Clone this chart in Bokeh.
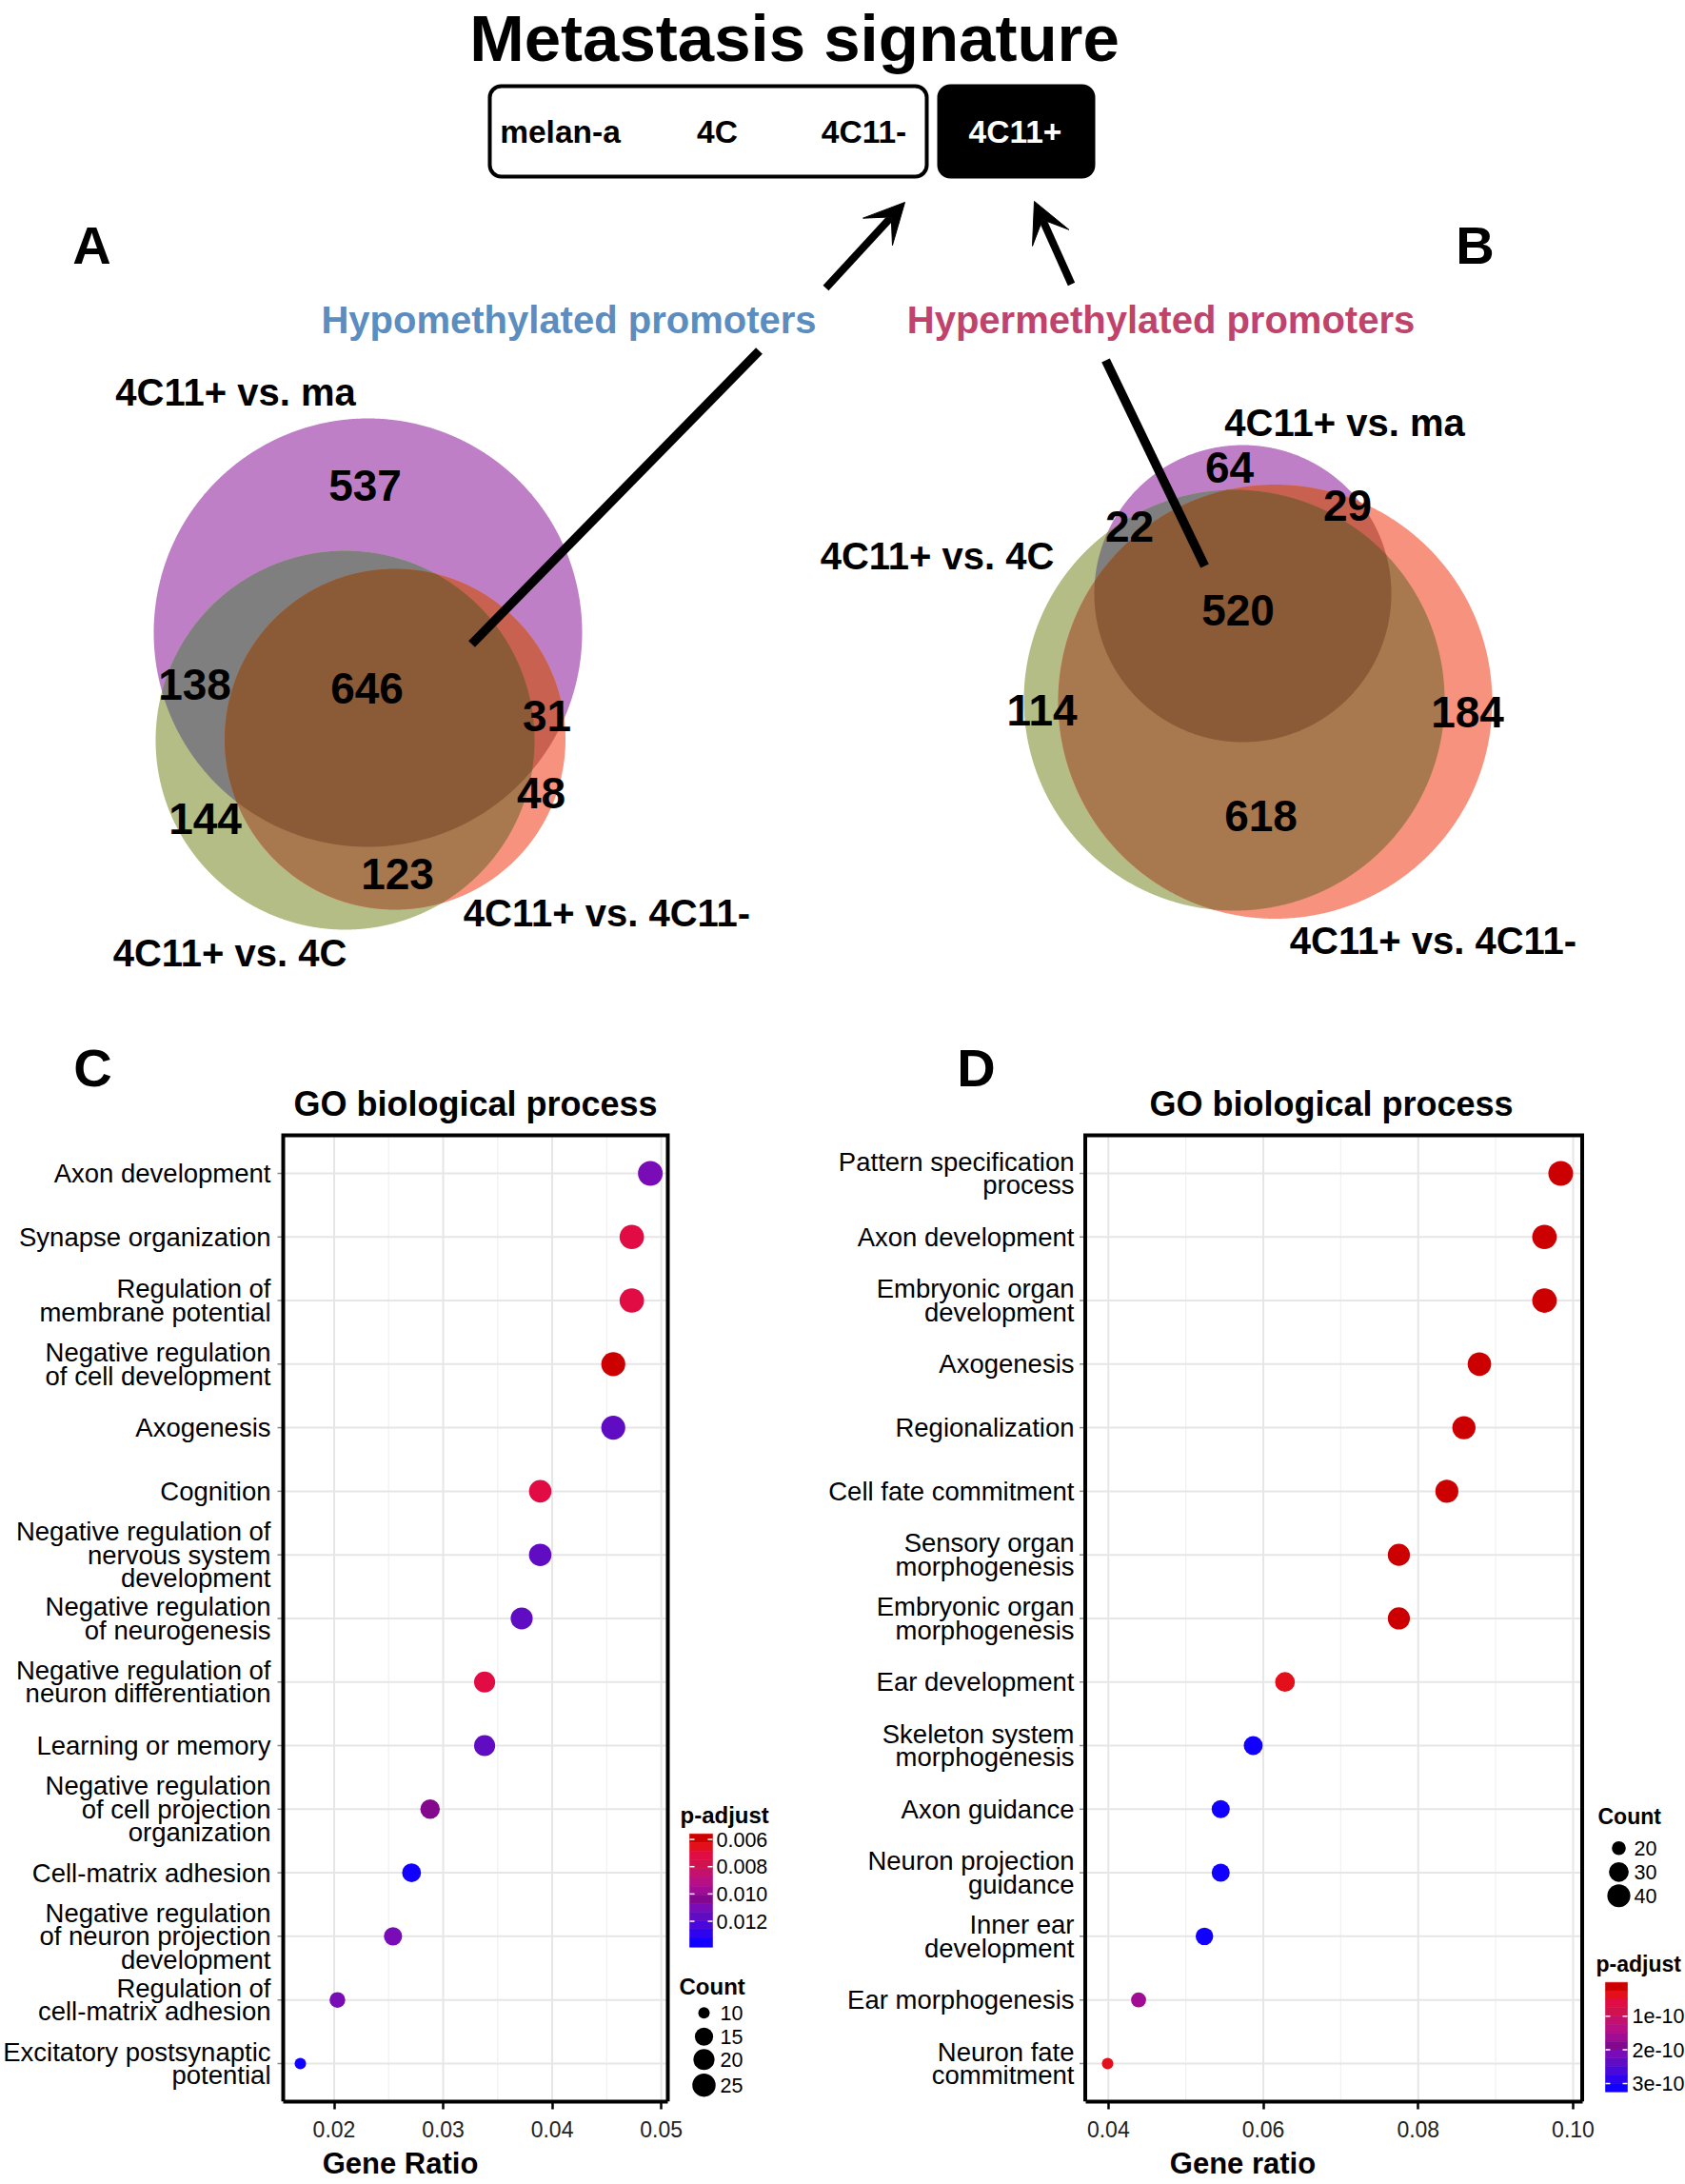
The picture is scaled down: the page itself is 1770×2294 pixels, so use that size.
import numpy as np
from bokeh.plotting import figure
from bokeh.models import (Range1d, ColumnDataSource, FixedTicker, LinearAxis, Arrow,
                          VeeHead, PrintfTickFormatter)
from bokeh.layouts import column, row
from bokeh.transform import linear_cmap
from bokeh.core.properties import value
from bokeh.embed import file_html
from bokeh.resources import INLINE

K = 1.0                  # reference px -> page px
FONT = "Liberation Sans"

# ------------------------------------------------------------------ data
TITLE = "Metastasis signature"
STAGES = ["melan-a", "4C", "4C11-", "4C11+"]
HYPO_LABEL = "Hypomethylated promoters"
HYPER_LABEL = "Hypermethylated promoters"
SET_NAMES = ["4C11+ vs. ma", "4C11+ vs. 4C", "4C11+ vs. 4C11-"]
# regions: ma only, 4C only, 4C11- only, ma&4C, ma&4C11-, 4C&4C11-, all three
REGIONS = [(0,), (1,), (2,), (0, 1), (0, 2), (1, 2), (0, 1, 2)]
HYPO_COUNTS = [537, 144, 48, 138, 31, 123, 646]
HYPER_COUNTS = [64, 114, 184, 22, 29, 618, 520]

TERMS_C = ["Axon development", "Synapse organization", "Regulation of\nmembrane potential",
           "Negative regulation\nof cell development", "Axogenesis", "Cognition",
           "Negative regulation of\nnervous system\ndevelopment",
           "Negative regulation\nof neurogenesis", "Negative regulation of\nneuron differentiation",
           "Learning or memory", "Negative regulation\nof cell projection\norganization",
           "Cell-matrix adhesion", "Negative regulation\nof neuron projection\ndevelopment",
           "Regulation of\ncell-matrix adhesion", "Excitatory postsynaptic\npotential"]
RATIO_C = [0.0490, 0.0473, 0.0473, 0.0456, 0.0456, 0.0389, 0.0389, 0.0372, 0.0338, 0.0338,
           0.0288, 0.0271, 0.0254, 0.0203, 0.0169]
COUNT_C = [29, 28, 28, 27, 27, 23, 23, 22, 20, 20, 17, 16, 15, 12, 10]
PADJ_C = [0.0110, 0.0072, 0.0072, 0.0058, 0.0117, 0.0072, 0.0117, 0.0116, 0.0070, 0.0116,
          0.0104, 0.0139, 0.0113, 0.0113, 0.0137]
XTICKS_C = [0.02, 0.03, 0.04, 0.05]
CB_TICKS_C = [0.006, 0.008, 0.010, 0.012]
CB_LABELS_C = ["0.006", "0.008", "0.010", "0.012"]
COUNT_LEGEND_C = [10, 15, 20, 25]

TERMS_D = ["Pattern specification\nprocess", "Axon development", "Embryonic organ\ndevelopment",
           "Axogenesis", "Regionalization", "Cell fate commitment", "Sensory organ\nmorphogenesis",
           "Embryonic organ\nmorphogenesis", "Ear development", "Skeleton system\nmorphogenesis",
           "Axon guidance", "Neuron projection\nguidance", "Inner ear\ndevelopment",
           "Ear morphogenesis", "Neuron fate\ncommitment"]
RATIO_D = [0.0984, 0.0963, 0.0963, 0.0879, 0.0859, 0.0837, 0.0775, 0.0775, 0.0628, 0.0587,
           0.0545, 0.0545, 0.0524, 0.0439, 0.0399]
COUNT_D = [47, 46, 46, 42, 41, 40, 37, 37, 30, 28, 26, 26, 25, 21, 19]
PADJ_D = [1e-12, 2e-12, 3e-12, 5e-12, 6e-12, 8e-12, 1.2e-11, 1.2e-11, 3.5e-11, 3.2e-10,
          3.2e-10, 3.2e-10, 3.1e-10, 1.6e-10, 3.0e-11]
XTICKS_D = [0.04, 0.06, 0.08, 0.10]
CB_TICKS_D = [1e-10, 2e-10, 3e-10]
CB_LABELS_D = ["1e-10", "2e-10", "3e-10"]
COUNT_LEGEND_D = [20, 30, 40]

PALETTE = ["#CC0000", "#E3101C", "#E10C44", "#D0124E", "#C4126C", "#B80F84", "#A00C94",
           "#84088E", "#7A0CB8", "#600CC2", "#4A08DA", "#2E04F0", "#1200FF"]
REGION_COLORS = ["#BF7FC7", "#B3BD85", "#F7927E", "#7F7F7F", "#C8614F", "#A8784F", "#8B5A36"]


def add_text(p, xs, ys, texts, size, bold=False, color="black", align="center",
             baseline="middle"):
    p.text(x=list(xs), y=list(ys), text=list(texts), text_font=value(FONT),
           text_font_size=value(f"{size * K:.1f}px"),
           text_font_style="bold" if bold else "normal",
           text_color=color, text_align=align, text_baseline=baseline)


# ------------------------------------------------------------------ top part (Venn)
TOP_H = 1080
top = figure(width=round(1770 * K), height=round(TOP_H * K), x_range=Range1d(0, 1770),
             y_range=Range1d(TOP_H, 0), output_backend="svg", toolbar_location=None,
             x_axis_type=None, y_axis_type=None, min_border=0, outline_line_color=None)

add_text(top, [834], [40], [TITLE], 69, bold=True)

box_kw = dict(line_color="black", line_width=4)
try:
    top.quad(left=[514], right=[973], top=[90], bottom=[185], fill_color="white",
             border_radius=12, **box_kw)
    top.quad(left=[986], right=[1148], top=[90], bottom=[185], fill_color="black",
             border_radius=12, **box_kw)
except AttributeError:
    top.quad(left=[514], right=[973], top=[90], bottom=[185], fill_color="white", **box_kw)
    top.quad(left=[986], right=[1148], top=[90], bottom=[185], fill_color="black", **box_kw)
add_text(top, [588, 753, 907], [138] * 3, STAGES[:3], 33.5, bold=True)
add_text(top, [1066], [138], STAGES[3:], 33.5, bold=True, color="white")

for (xs, ys, xe, ye) in [(867, 302, 950, 212), (1125, 298, 1086, 211)]:
    top.add_layout(Arrow(end=VeeHead(size=42 * K, fill_color="black", line_color="black"),
                         x_start=xs, y_start=ys, x_end=xe, y_end=ye,
                         line_width=8 * K, line_color="black"))

add_text(top, [96, 1549], [257, 257], ["A", "B"], 56, bold=True)
add_text(top, [597], [335], [HYPO_LABEL], 40, bold=True, color="#5B8DC0")
add_text(top, [1219], [335], [HYPER_LABEL], 40, bold=True, color="#C0436C")


def disc(cx, cy, r, n=1440):
    t = np.linspace(0, 2 * np.pi, n, endpoint=False)
    return np.c_[cx + r * np.cos(t), cy + r * np.sin(t)]


def region(circles, idx):
    pts = []
    for i in idx:
        P = disc(*circles[i])
        m = np.ones(len(P), bool)
        for j in idx:
            if j == i:
                continue
            cx, cy, r = circles[j]
            m &= (P[:, 0] - cx) ** 2 + (P[:, 1] - cy) ** 2 <= r * r
        pts.append(P[m])
    pts = np.vstack(pts)
    c = pts.mean(axis=0)
    o = np.argsort(np.arctan2(pts[:, 1] - c[1], pts[:, 0] - c[0]))
    return pts[o]


# layout geometry of the two Venn diagrams (ma, 4C, 4C11-)
VENN_A = [(386, 664, 225), (362, 777, 199), (414.5, 776, 179)]
VENN_B = [(1305, 623, 156), (1296, 735, 221), (1339, 736.5, 228)]
POS_A = [(383, 509), (215, 859), (568, 832), (204, 718), (574, 751), (417, 917), (385, 722)]
POS_B = [(1291, 490), (1094, 745), (1541, 747), (1186, 552), (1415, 530), (1324, 856), (1300, 640)]
NAME_POS_A = [(247, 411), (241, 1000), (637, 958)]
NAME_POS_B = [(1412, 443), (984, 583), (1505, 987)]

for circles in (VENN_A, VENN_B):
    xs, ys = [], []
    for idx in REGIONS:
        poly = region(circles, idx)
        xs.append(poly[:, 0].tolist())
        ys.append(poly[:, 1].tolist())
    top.patches(xs=xs, ys=ys, fill_color=REGION_COLORS, line_color=None)

top.line(x=[797, 495], y=[368, 676], line_color="black", line_width=9.5 * K)
top.line(x=[1161, 1265], y=[378, 594], line_color="black", line_width=9.5 * K)

for counts, pos, npos in [(HYPO_COUNTS, POS_A, NAME_POS_A), (HYPER_COUNTS, POS_B, NAME_POS_B)]:
    add_text(top, [q[0] for q in pos], [q[1] for q in pos], [str(c) for c in counts], 46, bold=True)
    add_text(top, [q[0] for q in npos], [q[1] for q in npos], SET_NAMES, 40, bold=True)

# ------------------------------------------------------------------ dot plots
REF_TOP = float(TOP_H)
ROW0, ROWSP, LINE_H = 1232.0, 66.8, 24.5
BOX_TOP = ROW0 - 0.6 * ROWSP
BOX_BOT = ROW0 + 14.6 * ROWSP
BORDER_B = 86
BOT_H = round((BOX_BOT - REF_TOP) * K) + BORDER_B


def ysc(yr):
    return (yr - ROW0) / ROWSP


SPEC_C = dict(x0=0, w=840, tick_px=(350.5, 694.1), tick_val=(0.02, 0.05),
              box=(297, 701), label_right=284, title_x=499, letter_xy=(97, 1121.5),
              padj_range=(0.0056, 0.0139), cb=(724, 748, 1926, 2045), cb_label_x=752,
              padj_title=(714, 1906), count_title=(713, 2086), count_dot_x=739,
              count_label_x=756, count_ys=[2114, 2139, 2163, 2190], minor=[0.025, 0.035, 0.045],
              legend_title_size=24)
SPEC_D = dict(x0=840, w=930, tick_px=(1163.8, 1652.0), tick_val=(0.04, 0.10),
              box=(1139.5, 1661.5), label_right=1128, title_x=1398, letter_xy=(1025, 1121.5),
              padj_range=(0.0, 3.25e-10), cb=(1686, 1709, 2082, 2197), cb_label_x=1714,
              padj_title=(1676, 2063), count_title=(1678, 1908), count_dot_x=1700,
              count_label_x=1716, count_ys=[1941, 1966, 1991], minor=[0.05, 0.07, 0.09],
              legend_title_size=23)


def panel(terms, ratio, counts, padj, xticks, cb_ticks, cb_labels, legend_counts,
          letter, xlabel, S, width):
    (p0, p1), (v0, v1) = S["tick_px"], S["tick_val"]

    def xv(xr):
        return v0 + (xr - p0) * (v1 - v0) / (p1 - p0)

    p = figure(width=width, height=BOT_H,
               x_range=Range1d(xv(S["x0"]), xv(S["x0"] + S["w"])),
               y_range=Range1d(ysc(BOX_BOT), ysc(REF_TOP)),
               output_backend="svg", toolbar_location=None, x_axis_type=None,
               y_axis_type=None, min_border=0, min_border_bottom=BORDER_B,
               outline_line_color=None)
    n = len(terms)
    rows = list(range(n))
    bl, br = S["box"]
    lo, hi = xv(bl), xv(br)
    yt, yb = ysc(BOX_TOP), ysc(BOX_BOT)
    mn = S["minor"]
    p.segment(x0=mn, x1=mn, y0=[yt] * len(mn), y1=[yb] * len(mn), line_color="#F1F1F1",
              line_width=1.2)
    mj = [t for t in xticks if lo < t < hi]
    p.segment(x0=mj, x1=mj, y0=[yt] * len(mj), y1=[yb] * len(mj), line_color="#E6E6E6",
              line_width=2)
    p.segment(x0=[lo] * n, x1=[hi] * n, y0=rows, y1=rows, line_color="#E6E6E6", line_width=2)
    p.segment(x0=[xv(bl - 6)] * n, x1=[lo] * n, y0=rows, y1=rows, line_color="#8A8A8A",
              line_width=1.5)
    p.line(x=[lo, lo, hi, hi], y=[yb, yt, yt, yb], line_color="black", line_width=4 * K,
           line_join="miter")

    cmin, cmax = min(counts), max(counts)

    def dsize(c):
        return K * (12 + 14 * np.sqrt(max(c - cmin, 0) / (cmax - cmin)))

    lowv, highv = S["padj_range"]
    src = ColumnDataSource(dict(x=ratio, y=rows, size=[dsize(c) for c in counts], padj=padj))
    p.scatter(x="x", y="y", size="size", source=src,
              fill_color=linear_cmap("padj", PALETTE, lowv, highv), line_color=None)

    # category labels
    lx, ly, lt = [], [], []
    for i, t in enumerate(terms):
        parts = t.split("\n")
        for j, s in enumerate(parts):
            lx.append(xv(S["label_right"]))
            ly.append(i + (j - (len(parts) - 1) / 2) * LINE_H / ROWSP)
            lt.append(s)
    add_text(p, lx, ly, lt, 27.5, align="right")

    add_text(p, [xv(S["title_x"])], [ysc(1159)], ["GO biological process"], 36, bold=True)
    add_text(p, [xv(S["letter_xy"][0])], [ysc(S["letter_xy"][1])], [letter], 56, bold=True)

    # colour bar
    cl, cr, ct, cbt = S["cb"]
    nb = len(PALETTE)
    edges = np.linspace(lowv, highv, nb + 1)

    def vy(v):
        return ysc(ct + (v - lowv) / (highv - lowv) * (cbt - ct))

    mids = list((edges[:-1] + edges[1:]) / 2)
    cb_src = ColumnDataSource(dict(l=[xv(cl)] * nb, r=[xv(cr)] * nb,
                                   t=[vy(e) for e in edges[:-1]], b=[vy(e) for e in edges[1:]],
                                   v=mids))
    cm = linear_cmap("v", PALETTE, lowv, highv)
    p.quad(left="l", right="r", top="t", bottom="b", source=cb_src, fill_color=cm,
           line_color=cm, line_width=0.6)
    tys = [vy(t) for t in cb_ticks]
    m = len(tys)
    p.segment(x0=[xv(cl)] * m, x1=[xv(cl + 5)] * m, y0=tys, y1=tys, line_color="white",
              line_width=1.5)
    p.segment(x0=[xv(cr - 5)] * m, x1=[xv(cr)] * m, y0=tys, y1=tys, line_color="white",
              line_width=1.5)
    add_text(p, [xv(S["cb_label_x"])] * m, tys, cb_labels, 21.5, align="left")
    add_text(p, [xv(S["padj_title"][0])], [ysc(S["padj_title"][1])], ["p-adjust"],
             S["legend_title_size"], bold=True, align="left")

    # size legend
    add_text(p, [xv(S["count_title"][0])], [ysc(S["count_title"][1])], ["Count"],
             S["legend_title_size"], bold=True, align="left")
    q = len(legend_counts)
    lys = [ysc(v) for v in S["count_ys"]]
    p.scatter(x=[xv(S["count_dot_x"])] * q, y=lys, size=[dsize(c) for c in legend_counts],
              fill_color="black", line_color=None)
    add_text(p, [xv(S["count_label_x"])] * q, lys, [str(c) for c in legend_counts], 21.5,
             align="left")

    ax = LinearAxis(ticker=FixedTicker(ticks=xticks), bounds=(lo, hi),
                    formatter=PrintfTickFormatter(format="%.2f"),
                    axis_label=xlabel, axis_line_color="black", axis_line_width=4 * K,
                    major_tick_line_color="black", major_tick_line_width=2.5,
                    major_tick_out=8, major_tick_in=0, minor_tick_line_color=None,
                    major_label_text_font=FONT,
                    major_label_text_font_size=f"{23 * K:.1f}px",
                    major_label_text_color="#222222", major_label_standoff=12,
                    axis_label_text_font=FONT, axis_label_text_font_style="bold",
                    axis_label_text_font_size=f"{31 * K:.1f}px",
                    axis_label_text_color="black", axis_label_standoff=7)
    p.add_layout(ax, "below")
    return p


WC = round(840 * K)
WD = round(1770 * K) - WC
pc = panel(TERMS_C, RATIO_C, COUNT_C, PADJ_C, XTICKS_C, CB_TICKS_C, CB_LABELS_C,
           COUNT_LEGEND_C, "C", "Gene Ratio", SPEC_C, WC)
pd_ = panel(TERMS_D, RATIO_D, COUNT_D, PADJ_D, XTICKS_D, CB_TICKS_D, CB_LABELS_D,
            COUNT_LEGEND_D, "D", "Gene ratio", SPEC_D, WD)

layout = column(top, row(pc, pd_))
open("out.html", "w").write(file_html(layout, INLINE))
